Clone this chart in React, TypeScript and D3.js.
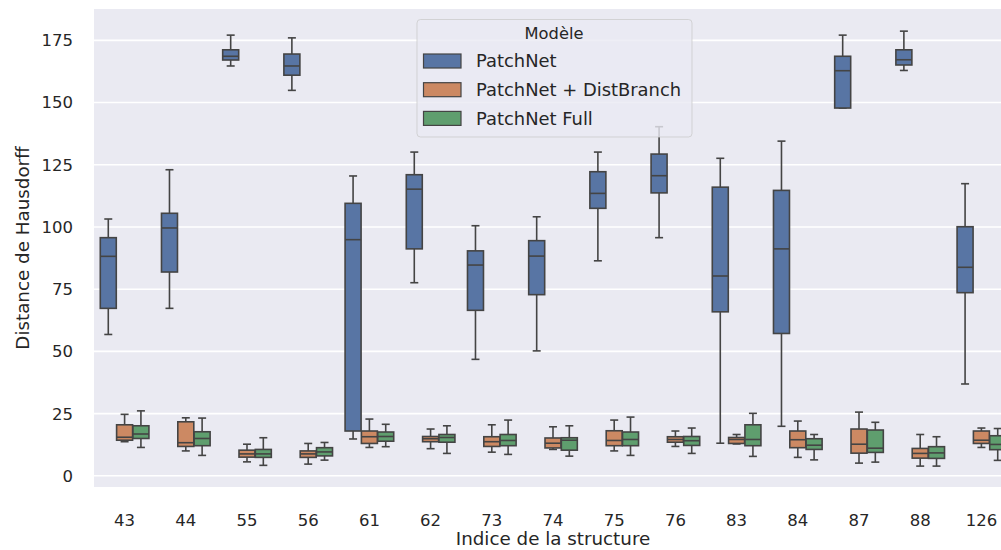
import * as d3 from 'd3';
import { useEffect, useRef } from 'react';

// Structure indices (x categories)
const categories = ['43', '44', '55', '56', '61', '62', '73', '74', '75', '76', '83', '84', '87', '88', '126'];
const models = ['PatchNet', 'PatchNet + DistBranch', 'PatchNet Full'];
const colors = ['#5875a4', '#cc8963', '#5f9e6e'];
const yTicks = [0, 25, 50, 75, 100, 125, 150, 175];

// [whisker low, q1, median, q3, whisker high]
const patchNet = [
    [56.8, 67.3, 88.2, 95.7, 103.2],
    [67.3, 81.9, 99.6, 105.5, 123.0],
    [164.7, 167.1, 168.6, 171.2, 177.1],
    [154.9, 161.0, 164.7, 169.5, 176.0],
    [14.8, 18.0, 94.9, 109.5, 120.5],
    [77.6, 91.2, 115.2, 121.0, 130.1],
    [46.8, 66.5, 84.7, 90.4, 100.5],
    [50.2, 72.8, 88.3, 94.5, 104.1],
    [86.4, 107.5, 113.5, 122.2, 130.1],
    [95.7, 113.7, 120.6, 129.3, 140.3],
    [13.1, 65.9, 80.3, 116.0, 127.6],
    [19.9, 57.2, 91.2, 114.7, 134.5],
    [147.8, 147.8, 162.8, 168.6, 177.1],
    [162.9, 165.1, 167.2, 171.2, 178.7],
    [36.9, 73.6, 83.8, 100.1, 117.4],
];
const distBranch = [
    [13.7, 14.3, 15.5, 20.5, 24.7],
    [10.0, 11.8, 13.3, 21.7, 23.3],
    [5.6, 7.5, 8.8, 10.3, 12.7],
    [4.7, 7.4, 8.8, 10.0, 13.0],
    [11.4, 13.0, 15.7, 18.0, 22.8],
    [10.9, 13.7, 14.9, 15.8, 18.8],
    [9.5, 11.8, 13.7, 15.7, 20.5],
    [10.6, 11.2, 13.1, 15.2, 19.7],
    [10.0, 12.1, 14.2, 18.1, 22.4],
    [11.8, 13.5, 14.6, 15.7, 18.0],
    [12.8, 13.0, 14.6, 15.4, 16.6],
    [7.4, 11.3, 14.5, 18.0, 22.0],
    [5.1, 9.1, 12.7, 18.8, 25.6],
    [3.9, 7.1, 9.0, 11.0, 16.6],
    [11.4, 13.0, 14.3, 18.0, 19.2],
];
const full = [
    [11.4, 15.0, 16.8, 20.1, 26.1],
    [8.2, 12.1, 15.0, 17.7, 23.2],
    [4.2, 7.4, 8.8, 10.6, 15.3],
    [6.3, 8.0, 9.6, 11.3, 13.4],
    [11.7, 13.9, 15.8, 17.6, 20.7],
    [9.0, 13.5, 15.4, 16.6, 20.1],
    [8.6, 12.1, 14.2, 16.6, 22.4],
    [7.9, 10.3, 14.3, 15.3, 20.1],
    [8.2, 12.1, 14.6, 17.6, 23.6],
    [9.0, 12.2, 14.1, 15.8, 19.2],
    [7.8, 12.1, 14.6, 20.5, 25.1],
    [6.4, 10.6, 12.3, 14.9, 16.6],
    [5.5, 9.4, 11.1, 18.4, 21.5],
    [3.9, 7.0, 9.2, 11.7, 15.7],
    [6.2, 10.5, 12.6, 16.1, 19.0],
];
const series = [patchNet, distBranch, full];

export default function App() {
    const ref = useRef<SVGSVGElement>(null);

    useEffect(() => {
        const width = 1001;
        const height = 550;
        const plot = { left: 94, top: 9, right: 1012, bottom: 487 };
        const font = 'DejaVu Sans, sans-serif';
        const lineColor = '#444444';

        const svg = d3.select(ref.current);
        svg.selectAll('*').remove();
        svg.attr('width', width).attr('height', height);

        svg.append('rect').attr('width', width).attr('height', height).attr('fill', '#ffffff');

        const x = d3.scaleBand().domain(categories).range([plot.left, plot.right]).padding(0);
        const hue = d3.scaleBand().domain(models).range([0, x.bandwidth() * 0.8]);
        const y = d3.scaleLinear().domain([-4.5, 187.6]).range([plot.bottom, plot.top]);

        // Background
        svg.append('rect')
            .attr('x', plot.left).attr('y', plot.top)
            .attr('width', plot.right - plot.left).attr('height', plot.bottom - plot.top)
            .attr('fill', '#eaeaf2');

        // Grid lines
        svg.append('g')
            .selectAll('line')
            .data(yTicks)
            .join('line')
            .attr('x1', plot.left).attr('x2', plot.right)
            .attr('y1', (d) => y(d)).attr('y2', (d) => y(d))
            .attr('stroke', '#ffffff').attr('stroke-width', 1.6);

        // Y tick labels
        svg.append('g')
            .selectAll('text')
            .data(yTicks)
            .join('text')
            .attr('x', 73).attr('y', (d) => y(d))
            .attr('dy', '0.36em')
            .attr('text-anchor', 'end')
            .style('font-family', font).style('font-size', '16.5px').style('fill', '#262626')
            .text((d) => d);

        // X tick labels
        svg.append('g')
            .selectAll('text')
            .data(categories)
            .join('text')
            .attr('x', (d) => x(d)! + x.bandwidth() / 2).attr('y', 526)
            .attr('text-anchor', 'middle')
            .style('font-family', font).style('font-size', '16.5px').style('fill', '#262626')
            .text((d) => d);

        // Axis titles
        svg.append('text')
            .attr('x', (plot.left + plot.right) / 2).attr('y', 545)
            .attr('text-anchor', 'middle')
            .style('font-family', font).style('font-size', '18.3px').style('fill', '#262626')
            .text('Indice de la structure');

        svg.append('text')
            .attr('transform', `translate(29,${(plot.top + plot.bottom) / 2}) rotate(-90)`)
            .attr('text-anchor', 'middle')
            .style('font-family', font).style('font-size', '18.3px').style('fill', '#262626')
            .text('Distance de Hausdorff');

        // Boxes
        const boxes = svg.append('g');
        series.forEach((data, m) => {
            const g = boxes.append('g');
            data.forEach((s, i) => {
                const slot = hue.bandwidth();
                const cx = x(categories[i])! + x.bandwidth() * 0.1 + hue(models[m])! + slot / 2;
                const bw = slot * 0.98;
                const [lo, q1, med, q3, hi] = s;
                // whiskers
                g.append('line')
                    .attr('x1', cx).attr('x2', cx).attr('y1', y(q3)).attr('y2', y(hi))
                    .attr('stroke', lineColor).attr('stroke-width', 1.6);
                g.append('line')
                    .attr('x1', cx).attr('x2', cx).attr('y1', y(q1)).attr('y2', y(lo))
                    .attr('stroke', lineColor).attr('stroke-width', 1.6);
                // caps
                [lo, hi].forEach((v) => {
                    g.append('line')
                        .attr('x1', cx - bw / 4).attr('x2', cx + bw / 4)
                        .attr('y1', y(v)).attr('y2', y(v))
                        .attr('stroke', lineColor).attr('stroke-width', 1.6);
                });
                g.append('rect')
                    .attr('x', cx - bw / 2).attr('width', bw)
                    .attr('y', y(q3)).attr('height', y(q1) - y(q3))
                    .attr('fill', colors[m])
                    .attr('stroke', lineColor).attr('stroke-width', 1.6);
                g.append('line')
                    .attr('x1', cx - bw / 2).attr('x2', cx + bw / 2)
                    .attr('y1', y(med)).attr('y2', y(med))
                    .attr('stroke', lineColor).attr('stroke-width', 1.6);
            });
        });

        // Legend
        const legend = svg.append('g');
        legend.append('rect')
            .attr('x', 417).attr('y', 19.5).attr('width', 275).attr('height', 117.5)
            .attr('rx', 3.5)
            .attr('fill', '#eaeaf2').attr('fill-opacity', 0.8)
            .attr('stroke', '#cccccc').attr('stroke-opacity', 0.8).attr('stroke-width', 1);
        legend.append('text')
            .attr('x', 554).attr('y', 39)
            .attr('text-anchor', 'middle')
            .style('font-family', font).style('font-size', '16.3px').style('fill', '#262626')
            .text('Modèle');
        models.forEach((name, m) => {
            const cy = 61 + m * 28.7;
            legend.append('rect')
                .attr('x', 423.5).attr('y', cy - 7).attr('width', 37.5).attr('height', 14)
                .attr('fill', colors[m])
                .attr('stroke', lineColor).attr('stroke-width', 1.2);
            legend.append('text')
                .attr('x', 476).attr('y', cy)
                .attr('dy', '0.36em')
                .style('font-family', font).style('font-size', '17.9px').style('fill', '#262626')
                .text(name);
        });
    }, []);

    return <svg ref={ref} style={{ position: 'absolute', left: 0, top: 0 }} />;
}
